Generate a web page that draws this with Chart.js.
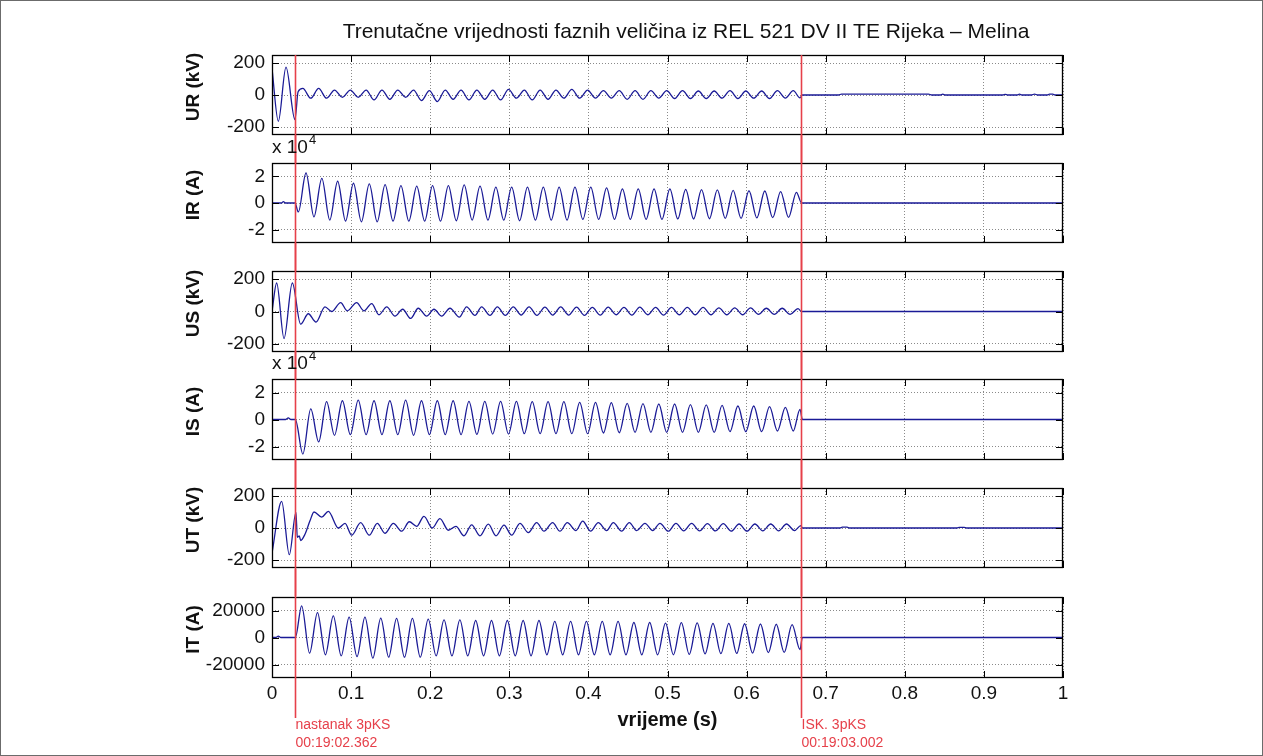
<!DOCTYPE html>
<html lang="hr">
<head>
<meta charset="utf-8">
<title>Trenutačne vrijednosti faznih veličina</title>
<script src="https://cdn.jsdelivr.net/npm/chart.js@4.4.1/dist/chart.umd.min.js"></script>
<style>
  html, body { margin: 0; padding: 0; background: #fff; }
  #figure { position: relative; width: 1263px; height: 756px; overflow: hidden; background: #fff; }
  #figure canvas { position: absolute; left: 0; }
  #edge { position: absolute; left: 0; top: 0; width: 1263px; height: 756px; box-sizing: border-box; border: 1px solid #6b6b6b; pointer-events: none; }
</style>
</head>
<body>
<div id="figure"><div id="edge"></div></div>
<script>
// x axis (time, s)
const xTicks = [0, 0.1, 0.2, 0.3, 0.4, 0.5, 0.6, 0.7, 0.8, 0.9, 1];
const xTickLabels = ['0', '0.1', '0.2', '0.3', '0.4', '0.5', '0.6', '0.7', '0.8', '0.9', '1'];

// y ticks
const voltTicks = [-200, 0, 200];
const voltTickLabels = ['-200', '0', '200'];
const ampTicks = [-20000, 0, 20000];
const ampTickLabelsE4 = ['-2', '0', '2'];
const itTickLabels = ['-20000', '0', '20000'];

// fault start / breaker trip markers
const markerTimes = [0.029, 0.669];
const markerTexts = [['nastanak 3pKS', '00:19:02.362'], ['ISK. 3pKS', '00:19:03.002']];

// UR (kV)
const urTime = [
  0, 0.008, 0.0177, 0.029, 0.033,
  0.039, 0.049, 0.059, 0.069, 0.079, 0.089, 0.099, 0.109, 0.119, 0.129,
  0.139, 0.149, 0.159, 0.169, 0.179, 0.189, 0.199, 0.209, 0.219, 0.229,
  0.239, 0.249, 0.259, 0.269, 0.279, 0.289, 0.299, 0.309, 0.319, 0.329,
  0.339, 0.349, 0.359, 0.369, 0.379, 0.389, 0.399, 0.409, 0.419, 0.429,
  0.439, 0.449, 0.459, 0.469, 0.479, 0.489, 0.499, 0.509, 0.519, 0.529,
  0.539, 0.549, 0.559, 0.569, 0.579, 0.589, 0.599, 0.609, 0.619, 0.629,
  0.639, 0.649, 0.659, 0.6675, 0.6705,
  0.716, 0.72, 0.83, 0.834, 0.845, 0.848, 0.851, 0.924, 0.927, 0.93, 0.942,
  0.945, 0.948, 0.96, 0.964, 0.968, 0.98, 0.983, 0.987, 0.99, 1
];
const urValue = [
  165, -164, 174, -154, 20,
  41, -20, 41, -20, 31, -14, 31, -14, 31, -31,
  31, -27, 31, -14, 31, -35, 27, -41, 31, -27,
  31, -31, 31, -27, 31, -31, 35, -20, 31, -31,
  31, -27, 31, -20, 35, -20, 31, -20, 27, -20,
  27, -27, 27, -27, 27, -20, 27, -22, 27, -22,
  25, -22, 25, -20, 27, -22, 25, -20, 25, -22,
  27, -20, 27, -18, 0,
  0, 6, 6, 0, 0, 5, 0, 0, 4, 0, 0,
  5, 0, 0, 6, 0, 0, 5, 5, 0, 0
];

// IR (A)
const irTime = [
  0, 0.012, 0.0143, 0.017, 0.029, 0.0333,
  0.043, 0.053, 0.063, 0.073, 0.083, 0.093, 0.103, 0.113, 0.123, 0.133,
  0.143, 0.153, 0.163, 0.173, 0.183, 0.193, 0.203, 0.213, 0.223, 0.233,
  0.243, 0.253, 0.263, 0.273, 0.283, 0.293, 0.303, 0.313, 0.323, 0.333,
  0.343, 0.353, 0.363, 0.373, 0.383, 0.393, 0.403, 0.413, 0.423, 0.433,
  0.443, 0.453, 0.463, 0.473, 0.483, 0.493, 0.503, 0.513, 0.523, 0.533,
  0.543, 0.553, 0.563, 0.573, 0.583, 0.593, 0.603, 0.613, 0.623, 0.633,
  0.643, 0.653, 0.663, 0.6695, 1
];
const irValue = [
  0, 0, 1000, 0, 0, -6700,
  22500, -10400, 18500, -12800, 16300, -13600, 14800, -14100, 14300, -14100,
  13800, -13600, 13100, -13600, 12600, -13600, 13100, -13600, 13100, -13300,
  13600, -12800, 12600, -12800, 11900, -12800, 11900, -13300, 11900, -12800,
  11900, -12800, 11900, -12800, 11900, -12300, 11900, -12300, 11400, -12300,
  10600, -12300, 10600, -12300, 10600, -12300, 10600, -12000, 10200, -12000,
  10000, -11800, 9800, -11500, 9500, -11500, 9200, -11200, 9000, -11000,
  8600, -10800, 8000, 0, 0
];

// US (kV)
const usTime = [
  0, 0.0059, 0.0152, 0.0257, 0.0362, 0.0459, 0.0556, 0.067, 0.0754, 0.0868,
  0.0952, 0.107, 0.1163, 0.126, 0.1353, 0.145, 0.1555, 0.1652, 0.1753, 0.1849,
  0.1955, 0.2048, 0.2145, 0.225, 0.2368, 0.246, 0.2566, 0.265, 0.2756, 0.2849,
  0.295, 0.305, 0.315, 0.325, 0.335, 0.345, 0.355, 0.365, 0.375, 0.385,
  0.395, 0.405, 0.415, 0.425, 0.435, 0.445, 0.455, 0.465, 0.475, 0.485,
  0.495, 0.505, 0.515, 0.525, 0.535, 0.545, 0.555, 0.565, 0.575, 0.585,
  0.595, 0.605, 0.615, 0.625, 0.635, 0.645, 0.655, 0.665, 0.6695, 1
];
const usValue = [
  0, 176, -167, 176, -78, -14, -65, 29, 0, 55,
  4, 55, 4, 49, -20, 29, -29, 14, -43, 20,
  -29, 14, -29, 20, -35, 29, -24, 29, -24, 29,
  -24, 29, -22, 29, -24, 27, -22, 29, -22, 27,
  -24, 25, -22, 27, -20, 25, -22, 27, -20, 25,
  -22, 25, -20, 25, -20, 25, -20, 22, -20, 22,
  -20, 22, -18, 20, -18, 20, -18, 18, 0, 0
];

// IS (A)
const isTime = [
  0, 0.017, 0.0206, 0.024, 0.0295,
  0.039, 0.049, 0.059, 0.069, 0.079, 0.089, 0.099, 0.109, 0.119, 0.129,
  0.139, 0.149, 0.159, 0.169, 0.179, 0.189, 0.199, 0.209, 0.219, 0.229,
  0.239, 0.249, 0.259, 0.269, 0.279, 0.289, 0.299, 0.309, 0.319, 0.329,
  0.339, 0.349, 0.359, 0.369, 0.379, 0.389, 0.399, 0.409, 0.419, 0.429,
  0.439, 0.449, 0.459, 0.469, 0.479, 0.489, 0.499, 0.509, 0.519, 0.529,
  0.539, 0.549, 0.559, 0.569, 0.579, 0.589, 0.599, 0.609, 0.619, 0.629,
  0.639, 0.649, 0.659, 0.6675, 0.6705, 1
];
const isValue = [
  0, 0, 1200, 0, 0,
  -25600, 7800, -16600, 13200, -11700, 13900, -11200, 14400, -11200, 13900,
  -11200, 13900, -11200, 14400, -11700, 13900, -11200, 13900, -11200, 13900,
  -11200, 13400, -11000, 13400, -10800, 13400, -10800, 13400, -10500, 13200,
  -10500, 13200, -10500, 13200, -10500, 12700, -10500, 12700, -10000, 12500,
  -9800, 12000, -9500, 11800, -9500, 11500, -9500, 11500, -9500, 11000,
  -9500, 10800, -9500, 10500, -9000, 10000, -9000, 10000, -9000, 9500,
  -8500, 9000, -8500, 7500, 0, 0
];

// UT (kV)
const utTime = [
  0, 0.0122, 0.0219, 0.0303, 0.032, 0.0345, 0.0362, 0.0417, 0.048, 0.0531,
  0.0628, 0.0712, 0.0839, 0.0923, 0.1007, 0.1121, 0.123, 0.1331, 0.1428, 0.1534,
  0.164, 0.1736, 0.1829, 0.1921, 0.2027, 0.2123, 0.2229, 0.2326, 0.2427, 0.2524,
  0.2629, 0.2735, 0.2832, 0.2933, 0.303, 0.3135, 0.3241, 0.3346, 0.3439, 0.3548,
  0.364, 0.3733, 0.3843, 0.3928, 0.4028, 0.4125, 0.4231, 0.4315, 0.442, 0.4517,
  0.461, 0.4715, 0.4813, 0.4905, 0.501, 0.5107, 0.5205, 0.5305, 0.5405, 0.5505,
  0.5605, 0.5705, 0.5805, 0.5905, 0.6005, 0.6105, 0.6205, 0.6305, 0.6405, 0.6505,
  0.6605, 0.6685, 0.6705, 0.718, 0.721, 0.727, 0.73, 0.866, 0.869, 0.875, 0.878, 1
];
const utValue = [
  -157, 167, -167, 98, -59, -49, -78, -39, 45, 100,
  68, 104, 0, 29, -45, 33, -45, 29, -33, 29,
  -20, 39, 10, 73, 0, 59, -14, 10, -49, 20,
  -49, 24, -49, 18, -45, 29, -29, 33, -20, 33,
  -20, 33, -16, 43, -20, 33, -16, 33, -20, 33,
  -16, 29, -16, 29, -20, 29, -18, 29, -18, 27,
  -18, 27, -20, 25, -20, 25, -18, 25, -18, 25,
  -16, 15, 0, 0, 5, 5, 0, 0, 4, 4, 0, 0
];

// IT (A)
const itTime = [
  0, 0.005, 0.008, 0.011, 0.0295,
  0.0375, 0.0475, 0.0575, 0.0675, 0.0775, 0.0875, 0.0975, 0.1075, 0.1175, 0.1275,
  0.1375, 0.1475, 0.1575, 0.1675, 0.1775, 0.1875, 0.1975, 0.2075, 0.2175, 0.2275,
  0.2375, 0.2475, 0.2575, 0.2675, 0.2775, 0.2875, 0.2975, 0.3075, 0.3175, 0.3275,
  0.3375, 0.3475, 0.3575, 0.3675, 0.3775, 0.3875, 0.3975, 0.4075, 0.4175, 0.4275,
  0.4375, 0.4475, 0.4575, 0.4675, 0.4775, 0.4875, 0.4975, 0.5075, 0.5175, 0.5275,
  0.5375, 0.5475, 0.5575, 0.5675, 0.5775, 0.5875, 0.5975, 0.6075, 0.6175, 0.6275,
  0.6375, 0.6475, 0.6575, 0.6675, 0.6705, 1
];
const itValue = [
  0, 0, 1000, 0, 0,
  23500, -11600, 18500, -12800, 16000, -13600, 15100, -14100, 15100, -15300,
  14300, -14600, 14100, -14600, 14100, -14600, 13600, -13600, 13100, -13600,
  13100, -13600, 12600, -13600, 12600, -13600, 12600, -13600, 12600, -13600,
  12600, -12800, 11900, -12800, 11900, -12800, 11900, -12800, 11900, -12800,
  11900, -12800, 11100, -12800, 11100, -12800, 10600, -12800, 11000, -12500,
  10800, -12200, 10500, -12000, 10500, -11800, 10200, -11500, 10000, -11200,
  9800, -11000, 9500, -9000, 0, 0
];

const FONT = '"Liberation Sans", Arial, Helvetica, sans-serif';
const BLUE = 'rgb(26, 26, 150)';
const RED = '#e6404a';
const TICK_LEN = 7;

// one panel per canvas, stacked; canvases overlap a little so the red markers run through the gaps
const panels = [
  { label: 'UR (kV)', time: urTime, values: urValue, range: 250, ticks: voltTicks, tickLabels: voltTickLabels, top: 0, height: 163, padTop: 55, padBottom: 28, first: true },
  { label: 'IR (A)', time: irTime, values: irValue, range: 30000, ticks: ampTicks, tickLabels: ampTickLabelsE4, exponent: true, top: 135, height: 136, padTop: 28, padBottom: 28 },
  { label: 'US (kV)', time: usTime, values: usValue, range: 250, ticks: voltTicks, tickLabels: voltTickLabels, top: 243, height: 137, padTop: 28, padBottom: 28 },
  { label: 'IS (A)', time: isTime, values: isValue, range: 30000, ticks: ampTicks, tickLabels: ampTickLabelsE4, exponent: true, top: 351, height: 137, padTop: 28, padBottom: 28 },
  { label: 'UT (kV)', time: utTime, values: utValue, range: 250, ticks: voltTicks, tickLabels: voltTickLabels, top: 460, height: 136, padTop: 28, padBottom: 28 },
  { label: 'IT (A)', time: itTime, values: itValue, range: 30000, ticks: ampTicks, tickLabels: itTickLabels, top: 569, height: 187, padTop: 28, padBottom: 0, last: true }
];

const decor = {
  id: 'decor',
  afterDraw(chart) {
    const p = chart.options.plugins.decor;
    const { ctx, chartArea: a, scales: { x, y } } = chart;
    ctx.save();
    ctx.setLineDash([]);

    // tick marks inside the box
    ctx.strokeStyle = '#000';
    ctx.lineWidth = 1;
    ctx.beginPath();
    x.ticks.forEach(t => {
      const px = Math.round(x.getPixelForValue(t.value)) + 0.5;
      ctx.moveTo(px, a.top); ctx.lineTo(px, a.top + TICK_LEN);
      ctx.moveTo(px, a.bottom); ctx.lineTo(px, a.bottom - TICK_LEN);
    });
    y.ticks.forEach(t => {
      const py = Math.round(y.getPixelForValue(t.value)) + 0.5;
      ctx.moveTo(a.left, py); ctx.lineTo(a.left + TICK_LEN, py);
      ctx.moveTo(a.right, py); ctx.lineTo(a.right - TICK_LEN, py);
    });
    ctx.stroke();
    ctx.lineWidth = 1.3;
    ctx.strokeRect(a.left + 0.5, a.top + 0.5, a.right - a.left - 1, a.bottom - a.top - 1);

    // red markers
    ctx.strokeStyle = RED;
    ctx.fillStyle = RED;
    ctx.lineWidth = 1.6;
    ctx.font = '14px ' + FONT;
    ctx.textAlign = 'left';
    ctx.textBaseline = 'middle';
    markerTimes.forEach((t, i) => {
      const px = Math.round(x.getPixelForValue(t)) + 0.5;
      const y0 = p.first ? a.top : 0;
      const y1 = p.last ? a.bottom + 40 : chart.height;
      ctx.beginPath();
      ctx.moveTo(px, y0);
      ctx.lineTo(px, y1);
      ctx.stroke();
      if (p.last) {
        ctx.fillText(markerTexts[i][0], px, a.bottom + 47);
        ctx.fillText(markerTexts[i][1], px, a.bottom + 65);
      }
    });

    // y label
    ctx.fillStyle = '#111';
    ctx.font = 'bold 19px ' + FONT;
    ctx.textAlign = 'center';
    ctx.save();
    ctx.translate(194, (a.top + a.bottom) / 2 - 8);
    ctx.rotate(-Math.PI / 2);
    ctx.fillText(p.label, 0, 0);
    ctx.restore();

    // x 10^4 multiplier
    if (p.exponent) {
      ctx.font = '19px ' + FONT;
      ctx.textAlign = 'left';
      ctx.textBaseline = 'alphabetic';
      ctx.fillText('x 10', a.left, a.top - 10);
      const w = ctx.measureText('x 10').width;
      ctx.font = '13px ' + FONT;
      ctx.fillText('4', a.left + w + 1, a.top - 19);
    }

    // figure title
    if (p.first) {
      ctx.font = '21px ' + FONT;
      ctx.textAlign = 'center';
      ctx.textBaseline = 'middle';
      ctx.fillText('Trenutačne vrijednosti faznih veličina iz REL 521 DV II TE Rijeka \u2013 Melina', 686, 32);
    }
    ctx.restore();
  }
};

const figure = document.getElementById('figure');

panels.forEach(p => {
  const canvas = document.createElement('canvas');
  canvas.width = 1263;
  canvas.height = p.height;
  canvas.style.top = p.top + 'px';
  figure.insertBefore(canvas, document.getElementById('edge'));

  new Chart(canvas, {
    type: 'line',
    data: {
      datasets: [{
        data: p.time.map((t, i) => ({ x: t, y: p.values[i] })),
        borderColor: BLUE,
        borderWidth: 1.3,
        pointRadius: 0,
        fill: false,
        cubicInterpolationMode: 'monotone'
      }]
    },
    options: {
      responsive: false,
      animation: false,
      devicePixelRatio: 1,
      events: [],
      layout: { autoPadding: false, padding: { top: p.padTop, bottom: p.padBottom, left: 0, right: 200 } },
      plugins: {
        legend: { display: false },
        tooltip: { enabled: false },
        decor: { label: p.label, first: !!p.first, last: !!p.last, exponent: !!p.exponent }
      },
      scales: {
        x: {
          type: 'linear',
          min: 0,
          max: 1,
          afterBuildTicks: s => { s.ticks = xTicks.map(v => ({ value: v })); },
          afterFit: s => { s.height = p.last ? 78 : 0; s.paddingLeft = 0; s.paddingRight = 0; },
          grid: { color: '#8a8a8a', lineWidth: 1, drawTicks: false },
          border: { display: false, dash: [1, 2] },
          ticks: {
            display: !!p.last,
            padding: 4,
            maxRotation: 0,
            autoSkip: false,
            color: '#111',
            font: { family: FONT, size: 19 },
            callback: (v, i) => xTickLabels[i]
          },
          title: {
            display: !!p.last,
            text: 'vrijeme (s)',
            color: '#111',
            font: { family: FONT, size: 20, weight: 'bold' },
            padding: { top: 0, bottom: 24 }
          }
        },
        y: {
          min: -p.range,
          max: p.range,
          afterBuildTicks: s => { s.ticks = p.ticks.map(v => ({ value: v })); },
          afterFit: s => { s.width = 272; s.paddingTop = 0; s.paddingBottom = 0; },
          grid: { color: '#8a8a8a', lineWidth: 1, drawTicks: false },
          border: { display: false, dash: [1, 2] },
          ticks: {
            padding: 7,
            autoSkip: false,
            color: '#111',
            font: { family: FONT, size: 19 },
            callback: (v, i) => p.tickLabels[i]
          }
        }
      }
    },
    plugins: [decor]
  });
});
</script>
</body>
</html>
